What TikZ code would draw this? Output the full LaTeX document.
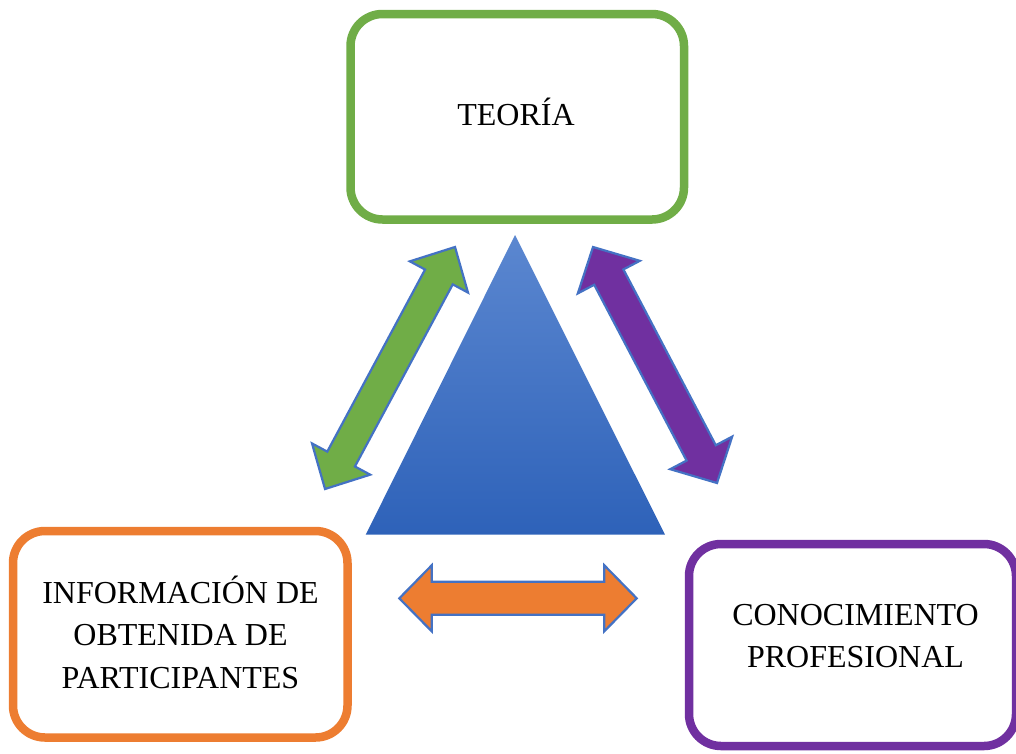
\documentclass[tikz,border=0pt]{standalone}
\usepackage{fontspec}
\setmainfont{Liberation Serif}
\usetikzlibrary{calc}
\definecolor{cgreen}{HTML}{70AD47}
\definecolor{corange}{HTML}{ED7D31}
\definecolor{cpurple}{HTML}{7030A0}
\definecolor{cblue}{HTML}{4472C4}
\definecolor{tritop}{HTML}{5B87D0}
\definecolor{tribot}{HTML}{2E62B9}
\tikzset{
  box/.style={draw=#1, line width=8.5pt, rounded corners=32pt, fill=white, inner sep=0pt},
  lbl/.style={font=\fontsize{32}{42.5}\selectfont, align=center, inner sep=0pt},
  barrow/.style={draw=cblue, line width=2.2pt, fill=#1, line join=miter},
}
% double block arrow: #1 tip A, #2 tip B, #3 head length, #4 shaft half width, #5 head half width, #6 style
\newcommand{\dblarrow}[6]{%
  \path[#6] (#1)
    -- ($(#1)!#3!(#2)!#5!90:(#2)$)
    -- ($(#1)!#3!(#2)!#4!90:(#2)$)
    -- ($(#2)!#3!(#1)!#4!-90:(#1)$)
    -- ($(#2)!#3!(#1)!#5!-90:(#1)$)
    -- (#2)
    -- ($(#2)!#3!(#1)!#5!90:(#1)$)
    -- ($(#2)!#3!(#1)!#4!90:(#1)$)
    -- ($(#1)!#3!(#2)!#4!-90:(#2)$)
    -- ($(#1)!#3!(#2)!#5!-90:(#2)$)
    -- cycle;}
\begin{document}
\begin{tikzpicture}[x=1pt,y=-1pt]
\useasboundingbox (0,0) rectangle (1016,753);
\clip (0,0) rectangle (1016,753);
% boxes
\node[box=cgreen, minimum width=333.5pt, minimum height=205.5pt] (teoria) at (517.25,116.75) {};
\node[box=corange, minimum width=334.5pt, minimum height=206.5pt] (info) at (180.25,634.25) {};
\node[box=cpurple, minimum width=327pt, minimum height=202pt] (conoc) at (852.5,645) {};
% texts
\node[lbl, anchor=base] (tteoria) at (516,125) {TEORÍA};
\node[lbl, anchor=base] (tinfo1) at (180.5,603) {INFORMACIÓN DE};
\node[lbl, anchor=base] (tinfo2) at (180.5,645.5) {OBTENIDA DE};
\node[lbl, anchor=base] (tinfo3) at (180.5,688) {PARTICIPANTES};
\node[lbl, anchor=base] (tconoc1) at (855.5,625) {CONOCIMIENTO};
\node[lbl, anchor=base] (tconoc2) at (855.5,667) {PROFESIONAL};
% triangle
\coordinate (apex) at (515,235);
\coordinate (bl) at (365.7,534.7);
\coordinate (br) at (665,534.7);
\shade[top color=tritop, bottom color=tribot] (apex) -- (br) -- (bl) -- cycle;
% arrows
\coordinate (gA) at (325,489);
\coordinate (gB) at (455,247);
\coordinate (pA) at (593,247);
\coordinate (pB) at (717,483);
\coordinate (oA) at (399.3,598.3);
\coordinate (oB) at (636.7,598.3);
\dblarrow{gA}{gB}{34pt}{15.7pt}{33pt}{barrow=cgreen}
\dblarrow{pA}{pB}{34pt}{16.5pt}{35pt}{barrow=cpurple}
\dblarrow{oA}{oB}{32.4pt}{16.5pt}{33pt}{barrow=corange}
\end{tikzpicture}
\end{document}
